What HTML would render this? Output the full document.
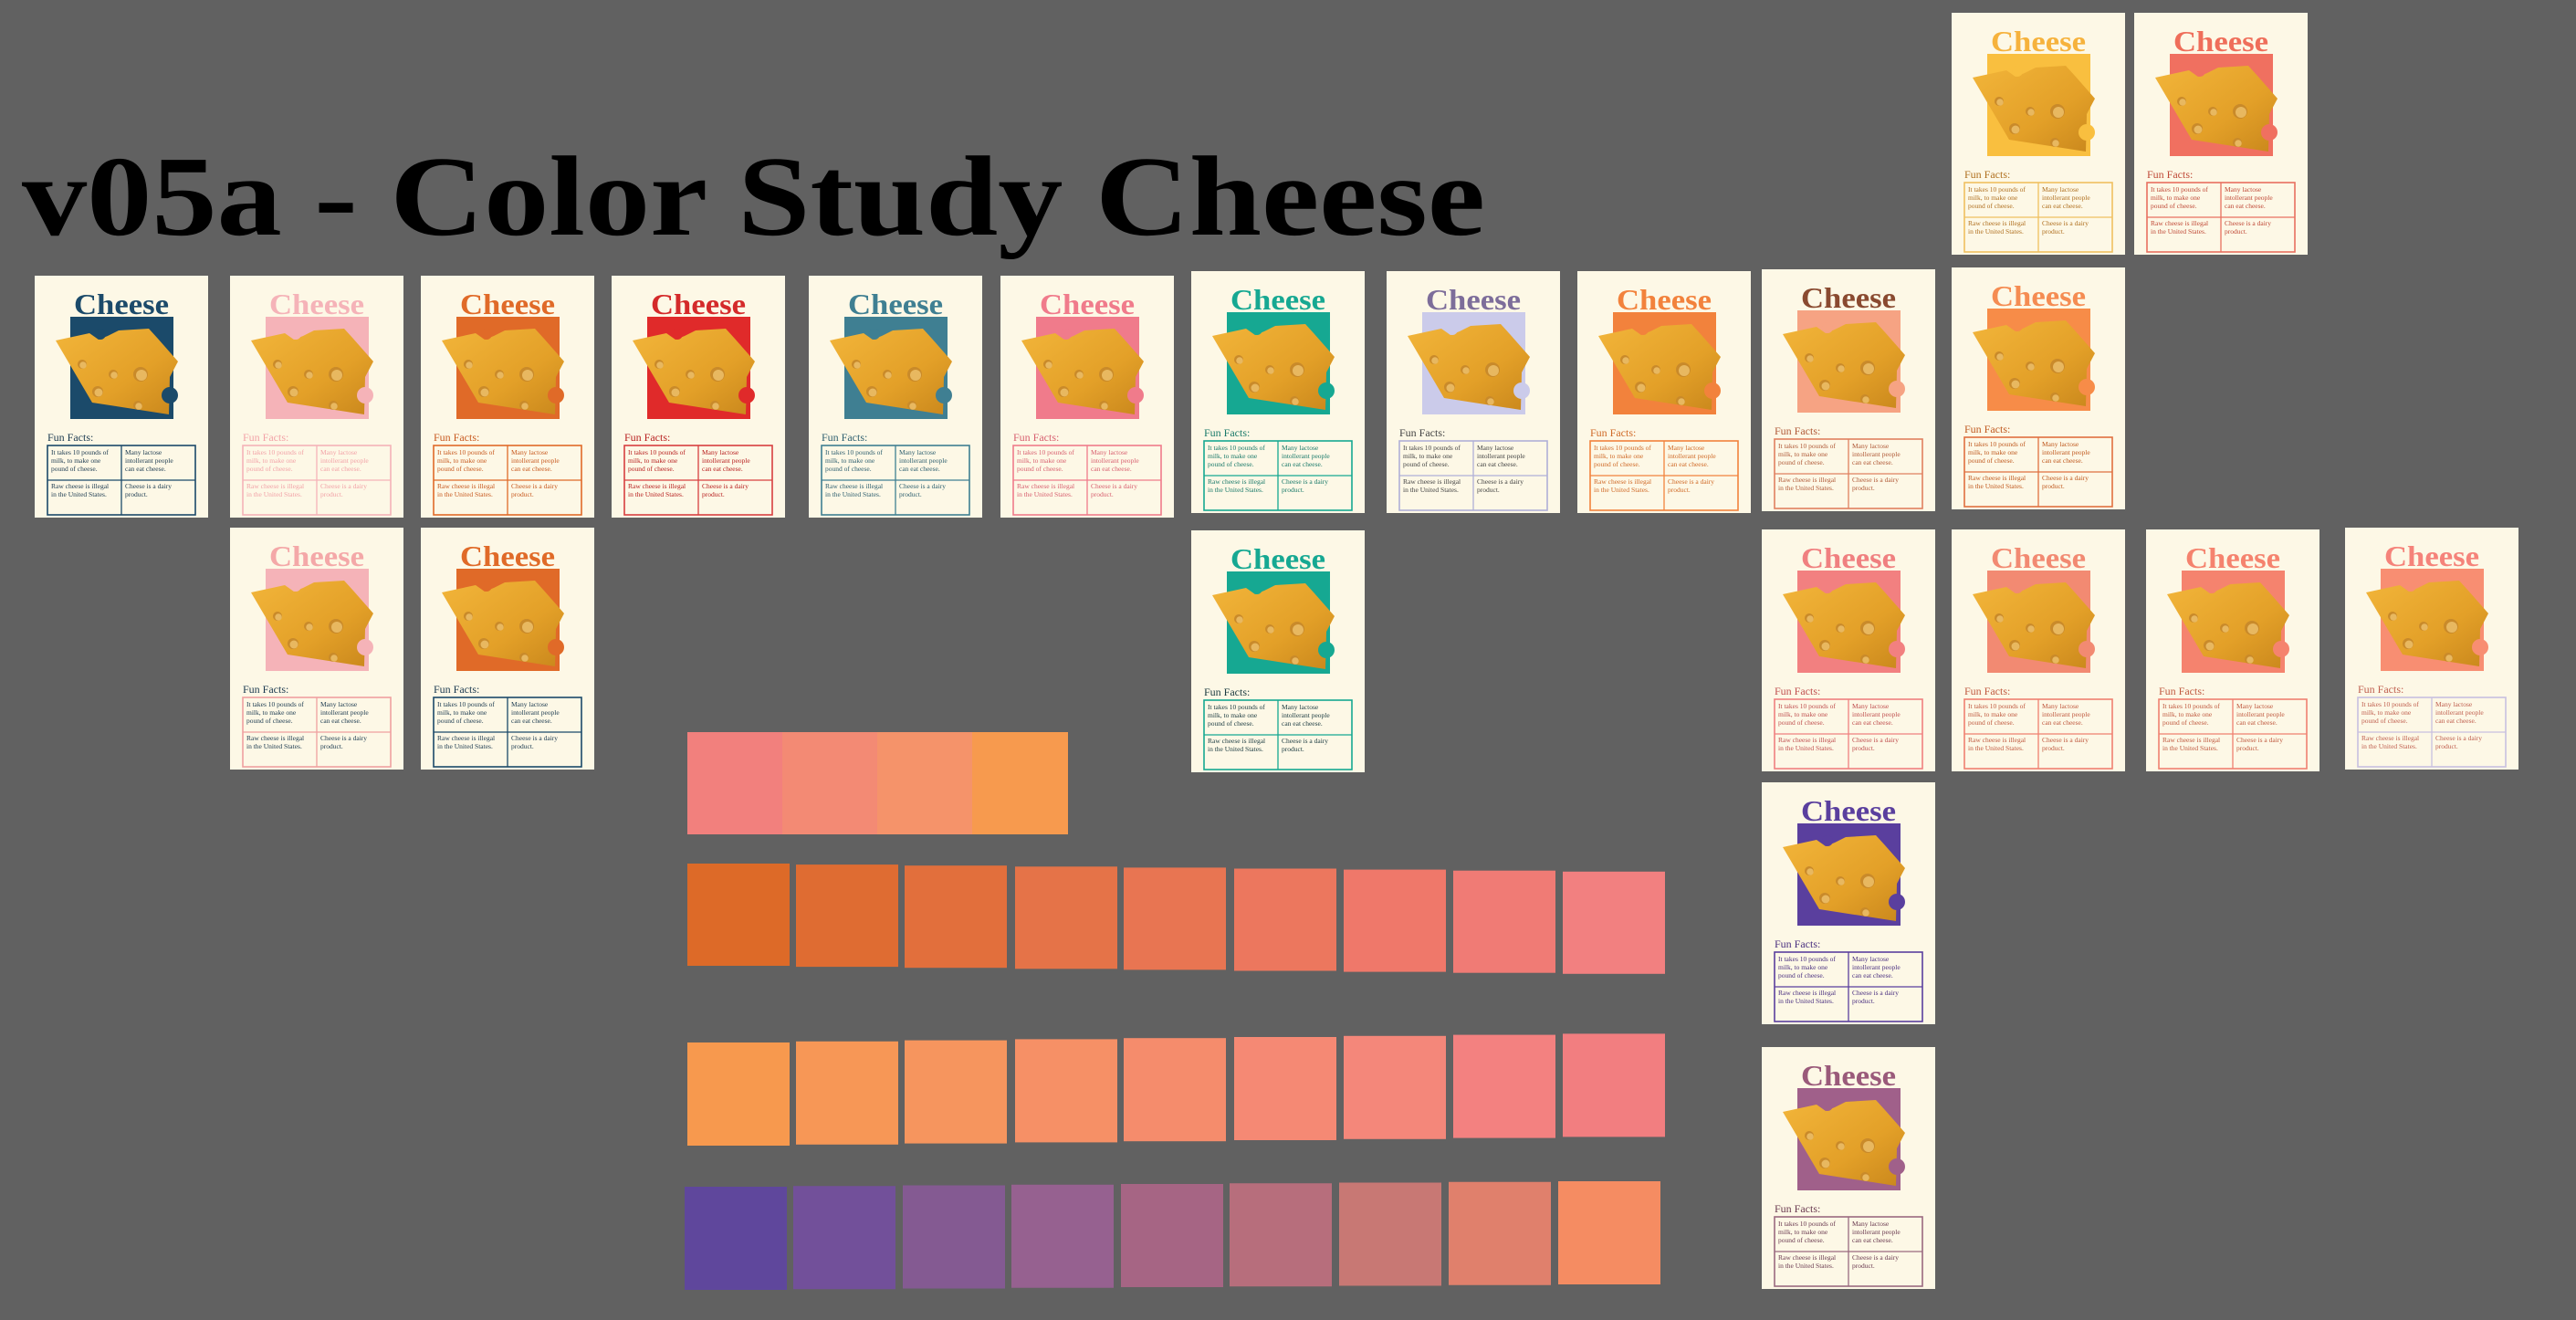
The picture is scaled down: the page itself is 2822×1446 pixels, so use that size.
<!DOCTYPE html>
<html><head><meta charset="utf-8">
<style>
html,body{margin:0;padding:0;background:#616161;width:2822px;height:1446px;overflow:hidden}
svg{display:block}
</style></head>
<body>
<svg id="s" width="2822" height="1446" viewBox="0 0 2822 1446" xmlns="http://www.w3.org/2000/svg">
<defs>
<linearGradient id="ch" x1="0" y1="0" x2="1" y2="1">
<stop offset="0" stop-color="#f2b53a"/><stop offset="0.6" stop-color="#e3a028"/><stop offset="1" stop-color="#c9871c"/>
</linearGradient>
</defs>
<rect width="2822" height="1446" fill="#616161"/>
<text x="24" y="257" font-family="Liberation Serif, serif" font-weight="bold" font-size="125" fill="#000" textLength="1603" lengthAdjust="spacingAndGlyphs">v05a - Color Study Cheese</text>
<g id="sw"></g>
<g id="cards"></g>
</svg>
<script>
var ns="http://www.w3.org/2000/svg";
var S=document.getElementById('cards');
function el(tag,attrs,parent,txt){var e=document.createElementNS(ns,tag);for(var k in attrs)e.setAttribute(k,attrs[k]);if(txt!=null)e.textContent=txt;(parent||S).appendChild(e);return e;}
var cards=[
[38,302,'#1b4a6a','#1b4a6a','#1b3a50','#1b4a6a'],
[252,302,'#f5b3b8','#f5b3b8','#f2a3a8','#f5b3b8'],
[461,302,'#e06a28','#e06a28','#c85a20','#e06a28'],
[670,302,'#d42a2a','#e02a2a','#b82020','#d84040'],
[886,302,'#3f7f92','#3f7f92','#2f6070','#3f7f92'],
[1096,302,'#f07b8b','#f07b8b','#d86070','#f07b8b'],
[1305,297,'#16a892','#16a892','#1a7a6a','#16a892'],
[1519,297,'#7d6d9a','#cbcbea','#444','#b0b0d8'],
[1728,297,'#f2823c','#f2823c','#d06a28','#f2823c'],
[1930,295,'#8a4a30','#f6a383','#b05a38','#e08060'],
[2138,293,'#f58c52','#f78c48','#c05a20','#e07040'],
[2138,14,'#f6b23c','#f9bf3f','#b07020','#f0c060'],
[2338,14,'#ef6e5a','#f07060','#c04a38','#e87060'],
[252,578,'#f4a8a8','#f5b3b8','#1b3a50','#f0a0a0'],
[461,578,'#e06a28','#e06a28','#1b3a50','#1b4a6a'],
[1305,581,'#16a892','#16a892','#1a3a40','#16a892'],
[1930,580,'#f08080','#f28080','#c05050','#f08080'],
[2138,580,'#f28a72','#f28a72','#c05a40','#f08070'],
[2351,580,'#f5836e','#f5836e','#c05a40','#f08070'],
[2569,578,'#f5837a','#f88e72','#c06050','#c8c0e0'],
[1930,857,'#5a3f9e','#5a3f9e','#4a3080','#5a3f9e'],
[1930,1147,'#9a5a7a','#a0608a','#6a3a50','#9a6a80']
];
var ff='Liberation Serif, serif';
cards.forEach(function(c){
 var g=el('g',{transform:'translate('+c[0]+','+c[1]+')'});
 el('rect',{x:0,y:0,width:190,height:265,fill:'#fdf8e6'},g);
 el('text',{x:95,y:42,'text-anchor':'middle','font-family':ff,'font-weight':'bold','font-size':32,fill:c[2],textLength:104,lengthAdjust:'spacingAndGlyphs'},g,'Cheese');
 el('rect',{x:39,y:45,width:113,height:112,fill:c[3]},g);
 el('polygon',{points:'23,71 60,63 70,70 80,66 92,60 125,58 135,69 157,94 148,111 147,152 63,139',fill:'url(#ch)'},g);
 el('circle',{cx:148,cy:131,r:9,fill:c[3]},g);
 el('circle',{cx:72,cy:64,r:6,fill:c[3]},g);
 [[52,97,5],[86,108,5],[116,108,8],[69,127,6],[113,142,5]].forEach(function(h){
  el('circle',{cx:h[0],cy:h[1],r:h[2],fill:'#c98a2a'},g);
  el('circle',{cx:h[0]+1,cy:h[1]+1,r:h[2]*0.75,fill:'#e8b860'},g);
 });
 el('text',{x:14,y:181,'font-family':ff,'font-size':12,fill:c[4]},g,'Fun Facts:');
 el('rect',{x:14,y:186,width:162,height:76,fill:'none',stroke:c[5],'stroke-width':1.6},g);
 el('line',{x1:95,y1:186,x2:95,y2:262,stroke:c[5],'stroke-width':1.3},g);
 el('line',{x1:14,y1:224,x2:176,y2:224,stroke:c[5],'stroke-width':1.3},g);
 var t=[[18,196,'It takes 10 pounds of'],[18,205,'milk, to make one'],[18,214,'pound of cheese.'],
 [99,196,'Many lactose'],[99,205,'intollerant people'],[99,214,'can eat cheese.'],
 [18,233,'Raw cheese is illegal'],[18,242,'in the United States.'],[99,233,'Cheese is a dairy'],[99,242,'product.']];
 t.forEach(function(a){el('text',{x:a[0],y:a[1],'font-family':ff,'font-size':7.5,fill:c[4]},g,a[2]);});
});
var W=document.getElementById('sw');
var A=['#f2807d','#f38a74','#f5936a','#f79a4e'];
A.forEach(function(col,i){el('rect',{x:753+i*104,y:802,width:i==3?105:106,height:112,fill:col},W);});
var B=['#dd6a28','#df6c32','#e26f3c','#e57348','#e87552','#ec775e','#ef786a','#f07b75','#f28080'];
var C=['#f7994e','#f79756','#f6955e','#f69066','#f58c6c','#f58974','#f4877a','#f38180','#f27e80'];
var D=['#5f479c','#72509a','#845a92','#966190','#a66584','#b76e7c','#c87874','#e0806c','#f58c62'];
var xs=[753,872,991,1112,1231,1352,1472,1592,1712];
var xd=[750,869,989,1108,1228,1347,1467,1587,1707];
for(var i=0;i<9;i++){
 el('rect',{x:xs[i],y:946+i*1.1,width:112,height:112,fill:B[i]},W);
 el('rect',{x:xs[i],y:1142-i*1.2,width:112,height:113,fill:C[i]},W);
 el('rect',{x:xd[i],y:1300-i*0.75,width:112,height:113,fill:D[i]},W);
}
</script>
</body></html>
